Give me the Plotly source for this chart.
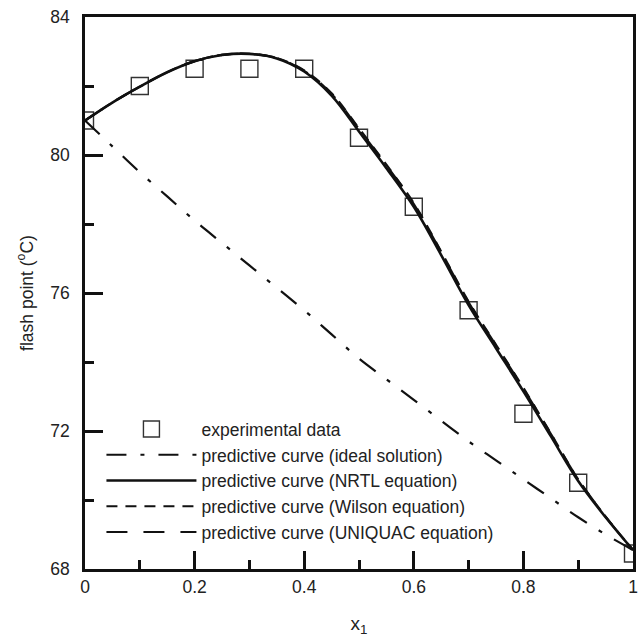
import plotly.graph_objects as go

# experimental data
x_exp = [0.0, 0.1, 0.2, 0.3, 0.4, 0.5, 0.6, 0.7, 0.8, 0.9, 1.0]
y_exp = [81.0, 82.0, 82.5, 82.5, 82.5, 80.5, 78.5, 75.5, 72.5, 70.5, 68.45]

# predictive curves
x_curve = [0.0, 0.05, 0.1, 0.15, 0.2, 0.25, 0.3, 0.35, 0.4, 0.45, 0.5,
           0.55, 0.6, 0.65, 0.7, 0.75, 0.8, 0.85, 0.9, 0.95, 1.0]
y_ideal = [81.0, 80.25, 79.5, 78.8, 78.1, 77.45, 76.8, 76.15, 75.5, 74.8, 74.1,
           73.5, 72.9, 72.3, 71.7, 71.15, 70.6, 70.05, 69.5, 69.0, 68.55]
y_nrtl = [81.0, 81.52, 81.98, 82.4, 82.72, 82.9, 82.93, 82.8, 82.42, 81.72, 80.68,
          79.62, 78.5, 77.1, 75.65, 74.4, 73.15, 71.85, 70.55, 69.5, 68.55]
y_wilson = [81.0, 81.52, 81.98, 82.4, 82.72, 82.9, 82.93, 82.81, 82.45, 81.79, 80.77,
            79.72, 78.6, 77.2, 75.75, 74.5, 73.25, 71.93, 70.6, 69.52, 68.55]
y_uniquac = [81.0, 81.52, 81.98, 82.4, 82.72, 82.9, 82.93, 82.81, 82.44, 81.77, 80.75,
             79.7, 78.58, 77.18, 75.73, 74.48, 73.23, 71.92, 70.6, 69.52, 68.55]

x_ticks = [0, 0.2, 0.4, 0.6, 0.8, 1]
x_ticklabels = ["0", "0.2", "0.4", "0.6", "0.8", "1"]
y_ticks = [68, 72, 76, 80, 84]
y_ticklabels = ["68", "72", "76", "80", "84"]

FONT = "Liberation Sans, Arial, sans-serif"
INK = "#111111"

fig = go.Figure()
fig.add_trace(go.Scatter(x=x_exp, y=y_exp, mode="markers", name="experimental data",
                         marker=dict(symbol="square-open", size=17, color="#333333",
                                     line=dict(width=1.4, color="#333333"))))
fig.add_trace(go.Scatter(x=x_curve, y=y_ideal, mode="lines", name="predictive curve (ideal solution)",
                         line=dict(color=INK, width=2.2, dash="20px,14px,4px,14px", shape="spline")))
fig.add_trace(go.Scatter(x=x_curve, y=y_nrtl, mode="lines", name="predictive curve (NRTL equation)",
                         line=dict(color=INK, width=2.6, shape="spline")))
fig.add_trace(go.Scatter(x=x_curve, y=y_wilson, mode="lines", name="predictive curve (Wilson equation)",
                         line=dict(color=INK, width=2.2, dash="11px,8px", shape="spline")))
fig.add_trace(go.Scatter(x=x_curve, y=y_uniquac, mode="lines", name="predictive curve (UNIQUAC equation)",
                         line=dict(color=INK, width=2.2, dash="21px,16px", shape="spline")))

axis_common = dict(showline=True, linecolor=INK, linewidth=2.5, mirror=True,
                   ticks="inside", ticklen=18, tickwidth=2.5, tickcolor=INK,
                   showgrid=False, zeroline=False,
                   tickfont=dict(family=FONT, size=17.5, color="#222222"))

fig.update_xaxes(range=[0, 1], tickvals=x_ticks, ticktext=x_ticklabels,
                 minor=dict(ticks="inside", dtick=0.1, ticklen=9, tickwidth=2.5, tickcolor=INK),
                 title=dict(text="x<sub>1</sub>", font=dict(family=FONT, size=19, color="#222222"), standoff=22),
                 ticklabelstandoff=0, **axis_common)
fig.update_yaxes(range=[68, 84], tickvals=y_ticks, ticktext=y_ticklabels,
                 minor=dict(ticks="inside", dtick=2, ticklen=9, tickwidth=2.5, tickcolor=INK),
                 title=dict(text="flash point (<sup>o</sup>C)", font=dict(family=FONT, size=17.5, color="#222222"), standoff=13),
                 ticklabelstandoff=9, **axis_common)

fig.update_layout(
    width=642, height=637,
    margin=dict(l=85, r=4, t=17, b=68),
    paper_bgcolor="white", plot_bgcolor="white",
    showlegend=True,
    legend=dict(x=0.03, y=0.286, xanchor="left", yanchor="top",
                bgcolor="rgba(0,0,0,0)", itemwidth=90, tracegroupgap=0,
                font=dict(family=FONT, size=17.5, color="#222222")),
)

fig.write_html("out.html", config={"displayModeBar": False},
               post_script="document.body.style.margin='0px';")
